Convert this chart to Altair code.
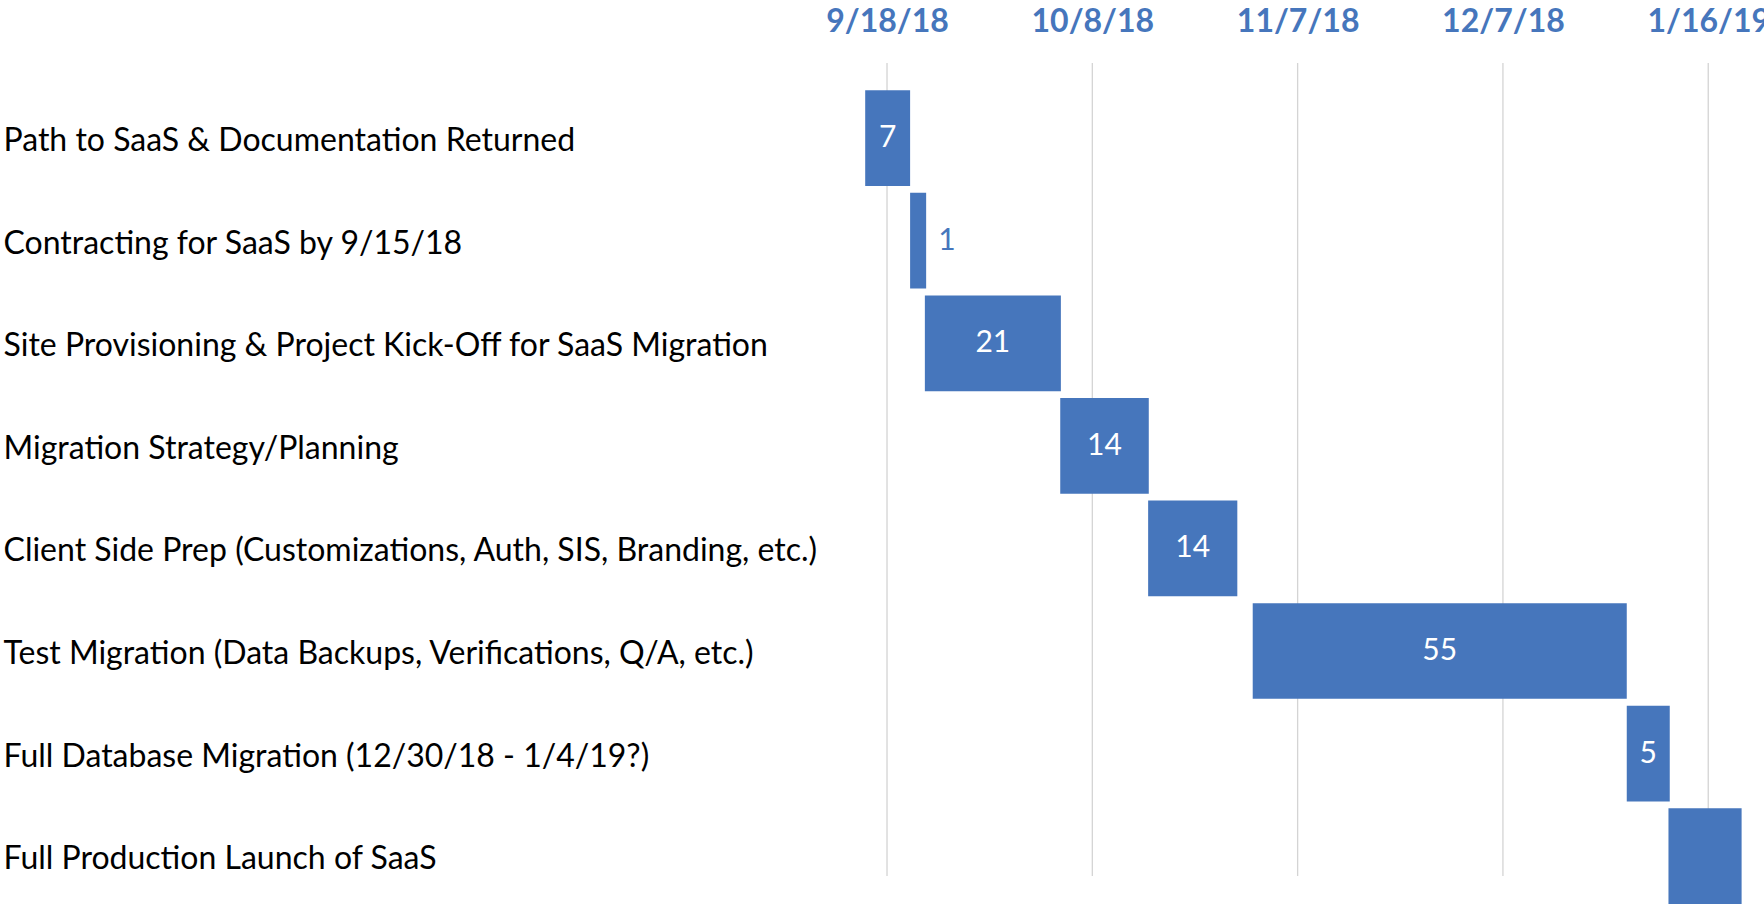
import altair as alt
import pandas as pd

tasks = [
    "Path to SaaS & Documentation Returned",
    "Contracting for SaaS by 9/15/18",
    "Site Provisioning & Project Kick-Off for SaaS Migration",
    "Migration Strategy/Planning",
    "Client Side Prep (Customizations, Auth, SIS, Branding, etc.)",
    "Test Migration (Data Backups, Verifications, Q/A, etc.)",
    "Full Database Migration (12/30/18 - 1/4/19?)",
    "Full Production Launch of SaaS",
]
# bar start / end, in days counted from the first gridline (9/18/18)
start_day = [-3.4, 3.6, 5.9, 27.0, 40.7, 57.0, 115.3, 121.8]
end_day = [3.6, 6.1, 27.1, 40.8, 54.6, 115.3, 122.0, 133.2]
duration_labels = ["7", "1", "21", "14", "14", "55", "5", ""]

tick_days = [0, 32, 64, 96, 128]
tick_labels = ["9/18/18", "10/8/18", "11/7/18", "12/7/18", "1/16/19"]

BLUE = "#4676BC"
FONT = "Lato"

df = pd.DataFrame({
    "task": tasks,
    "start": start_day,
    "end": end_day,
    "label": duration_labels,
})
df["mid"] = (df["start"] + df["end"]) / 2
df["inside"] = (df["end"] - df["start"]) >= 4

ticks_df = pd.DataFrame({"day": tick_days, "text": tick_labels})

label_expr = ""
for d, t in zip(tick_days, tick_labels):
    label_expr += f"datum.value == {d} ? '{t}' : "
label_expr += "''"

x_scale = alt.Scale(domain=[-4.21, 136.69], nice=False, zero=False)
y_scale = alt.Scale(paddingInner=0.067, paddingOuter=0.133, align=1)

x_axis = alt.Axis(
    orient="top", values=tick_days, labelExpr=label_expr, grid=False,
    domain=False, ticks=False, tickSize=0, title=None,
    labelFont=FONT, labelFontSize=32, labelFontWeight="bold",
    labelColor=BLUE, labelPadding=32, labelBaseline="alphabetic",
    labelOverlap=False, labelFlush=False,
)
y_axis = alt.Axis(
    orient="left", domain=False, ticks=False, tickSize=0, grid=False,
    title=None, labelAlign="left", labelPadding=857, labelLimit=1000,
    labelFont=FONT, labelFontSize=32, labelColor="#000000",
    labelBaseline="middle", labelOffset=3,
)

grid = alt.Chart(ticks_df).mark_rule(color="#D4D4D4", strokeWidth=1.3).encode(
    x=alt.X("day:Q", scale=x_scale, axis=x_axis),
    y=alt.value(0),
    y2=alt.value(813),
)

bars = alt.Chart(df).mark_bar(color=BLUE, cornerRadius=0).encode(
    x=alt.X("start:Q", scale=x_scale, axis=x_axis),
    x2="end:Q",
    y=alt.Y("task:N", sort=tasks, scale=y_scale, axis=y_axis),
)

inside_text = alt.Chart(df).transform_filter("datum.inside").mark_text(
    color="white", font=FONT, fontSize=30, align="center", baseline="middle"
).encode(
    x=alt.X("mid:Q", scale=x_scale, axis=x_axis),
    y=alt.Y("task:N", sort=tasks, scale=y_scale, axis=y_axis),
    text="label:N",
)

outside_text = alt.Chart(df).transform_filter("!datum.inside").mark_text(
    color=BLUE, font=FONT, fontSize=30, align="left", baseline="middle", dx=12
).encode(
    x=alt.X("end:Q", scale=x_scale, axis=x_axis),
    y=alt.Y("task:N", sort=tasks, scale=y_scale, axis=y_axis),
    text="label:N",
)

chart = alt.layer(grid, bars, inside_text, outside_text).properties(
    width=904,
    height=841,
    background="white",
    autosize=alt.AutoSizeParams(type="none"),
    padding={"left": 860, "top": 63, "right": 0, "bottom": 0},
).configure_view(strokeWidth=0, stroke=None).configure_axis(
    domain=False, ticks=False, grid=False
)

chart.save("out.html", embed_options={"renderer": "svg", "actions": False})
